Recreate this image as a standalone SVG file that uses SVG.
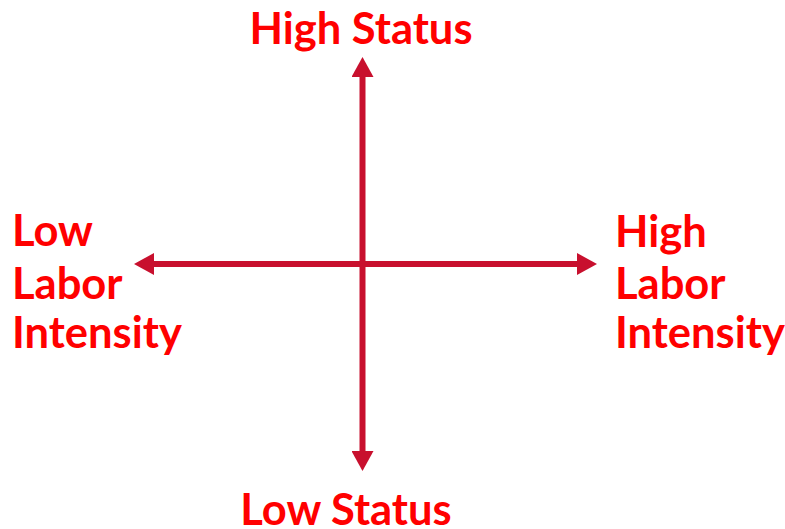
<svg xmlns="http://www.w3.org/2000/svg" width="785" height="529" viewBox="0 0 785 529">
  <style>
    .lbl { font-family: Lato, "Liberation Sans", sans-serif; font-weight: 700; fill: #ff0000; font-size: 43.5px; }
    .axis { stroke: #c8102e; stroke-width: 6; fill: none; }
  </style>
  <defs>
    <marker id="head" viewBox="0 0 20 22" refX="0" refY="11" markerWidth="20" markerHeight="22" markerUnits="userSpaceOnUse" orient="auto">
      <path d="M0,0 L20,11 L0,22 Z" fill="#c8102e"/>
    </marker>
  </defs>
  <rect width="785" height="529" fill="#ffffff"/>
  <!-- two crossing axes, each half ending in an arrowhead -->
  <g id="connectors">
    <line class="axis" x1="362.5" y1="264" x2="362.5" y2="77" marker-end="url(#head)"/>
    <line class="axis" x1="362.5" y1="264" x2="362.5" y2="451" marker-end="url(#head)"/>
    <line class="axis" x1="362.5" y1="264" x2="154" y2="264" marker-end="url(#head)"/>
    <line class="axis" x1="362.5" y1="264" x2="577" y2="264" marker-end="url(#head)"/>
  </g>
  <g id="high-status"><text class="lbl" x="361" y="44" text-anchor="middle">High Status</text></g>
  <g id="low-status"><text class="lbl" x="346" y="525" text-anchor="middle">Low Status</text></g>
  <g id="low-labor">
    <text class="lbl" x="12" y="246">Low</text>
    <text class="lbl" x="12" y="299">Labor</text>
    <text class="lbl" x="12" y="348">Intensity</text>
  </g>
  <g id="high-labor">
    <text class="lbl" x="615" y="247">High</text>
    <text class="lbl" x="615" y="299">Labor</text>
    <text class="lbl" x="615" y="348">Intensity</text>
  </g>
</svg>
